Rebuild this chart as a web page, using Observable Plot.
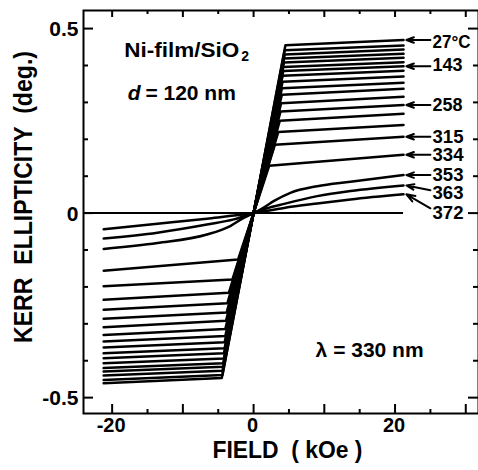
<!DOCTYPE html>
<html><head><meta charset="utf-8">
<script src="https://cdn.jsdelivr.net/npm/d3@7"></script>
<script src="https://cdn.jsdelivr.net/npm/@observablehq/plot@0.6"></script>
<style>body{margin:0;background:#fff} svg{display:block;overflow:visible}</style>
</head><body><div id="chart"></div>
<script>
// ---- data ----
// saturating loops (top to bottom at +21 kOe)
const satEndRight  = [0.469, 0.454, 0.443, 0.432, 0.421, 0.409, 0.398, 0.386, 0.370, 0.353, 0.337, 0.315, 0.293, 0.269, 0.239, 0.207, 0.158];
const satKneeRight = [0.455, 0.441, 0.430, 0.419, 0.408, 0.396, 0.385, 0.372, 0.356, 0.338, 0.321, 0.298, 0.275, 0.250, 0.220, 0.185, 0.128];
const satEndLeft   = [-0.461, -0.452, -0.440, -0.429, -0.420, -0.407, -0.393, -0.380, -0.364, -0.348, -0.330, -0.309, -0.286, -0.262, -0.235, -0.198, -0.156];
const satKneeLeft  = [-0.447, -0.439, -0.427, -0.416, -0.407, -0.394, -0.380, -0.366, -0.350, -0.333, -0.314, -0.292, -0.269, -0.244, -0.216, -0.180, -0.126];
const satKneeField = [4.5, 4.4, 4.4, 4.3, 4.3, 4.2, 4.2, 4.1, 4.1, 4.0, 4.0, 3.9, 3.8, 3.7, 3.5, 3.0, 2.2];
const fieldEnd = 21.2;

// non-saturating loops near Tc
const field353 = [-21.2, -13.6, -6.6, -3.3, -1.4, 0, 1.5, 2.9, 5.2, 9.0, 13.7, 21.2];
const kerr353  = [-0.097, -0.081, -0.058, -0.035, -0.013, 0, 0.016, 0.033, 0.055, 0.073, 0.085, 0.103];
const field363 = [-21.2, -13.6, -6.6, -2.8, 0, 1.9, 4.3, 9.0, 13.7, 21.2];
const kerr363  = [-0.069, -0.053, -0.031, -0.017, 0, 0.013, 0.025, 0.046, 0.060, 0.075];
const field372 = [-21.2, -13.6, -6.6, 0, 4.3, 9.0, 13.7, 21.2];
const kerr372  = [-0.044, -0.029, -0.015, 0, 0.014, 0.026, 0.037, 0.051];

// temperature labels and the curve end each one points to
const tempLabels = ["27°C", "143", "258", "315", "334", "353", "363", "372"];
const tempTarget = [0.469, 0.398, 0.293, 0.207, 0.158, 0.103, 0.075, 0.051];
const tempTextAt = [0.462, 0.400, 0.291, 0.205, 0.156, 0.102, 0.053, -0.001];
const tempTailAt = [0.469, 0.398, 0.293, 0.207, 0.158, 0.103, 0.062, 0.013];

// axes
const xMajor = [-20, -10, 0, 10, 20, 30];
const xMinor = [-15, -5, 5, 15, 25];
const xTickLabels = [-20, 0, 20];
const yMajor = [-0.5, 0, 0.5];
const yMinor = [-0.4, -0.3, -0.2, -0.1, 0.1, 0.2, 0.3, 0.4];
const yTickLabels = ["-0.5", "0", "0.5"];
const xDomain = [-24.05, 31.8];
const yDomain = [-0.543, 0.549];

// ---- build tables ----
const rows = [];
satEndRight.forEach((r, i) => {
  rows.push({c: i, H: -fieldEnd, v: satEndLeft[i]});
  rows.push({c: i, H: -satKneeField[i], v: satKneeLeft[i]});
  rows.push({c: i, H: 0, v: 0});
  rows.push({c: i, H: satKneeField[i], v: satKneeRight[i]});
  rows.push({c: i, H: fieldEnd, v: r});
});
const soft = [];
[[field353, kerr353], [field363, kerr363], [field372, kerr372]].forEach(([f, k], j) =>
  f.forEach((H, n) => soft.push({c: j, H, v: k[n]})));
const labels = tempLabels.map((t, i) => ({t, target: tempTarget[i], at: tempTextAt[i], tail: tempTailAt[i]}));

const W = 478, H = 470, mL = 83, mR = 0, mT = 10, mB = 57;
const fw = W - mL - mR, fh = H - mT - mB;
const font = "Liberation Sans, Arial, Helvetica, sans-serif";
const txt = {fontFamily: font, fontWeight: "bold", fill: "black"};

const chart = Plot.plot({
  width: W, height: H,
  marginLeft: mL, marginRight: mR, marginTop: mT, marginBottom: mB,
  x: {domain: xDomain, axis: null},
  y: {domain: yDomain, axis: null},
  style: {background: "white", overflow: "visible"},
  marks: [
    Plot.ruleY([0], {x1: xDomain[0], x2: fieldEnd, stroke: "black", strokeWidth: 2}),
    Plot.line(rows, {x: "H", y: "v", z: "c", stroke: "black", strokeWidth: 2.5, strokeLinejoin: "round"}),
    Plot.line(soft, {x: "H", y: "v", z: "c", stroke: "black", strokeWidth: 2.5, curve: "monotone-x"}),
    // ticks
    Plot.tickY(yMajor, {y: d => d, insetRight: fw - 10, strokeWidth: 2}),
    Plot.tickY(yMinor, {y: d => d, insetRight: fw - 5, strokeWidth: 2}),
    Plot.tickY(yMajor, {y: d => d, insetLeft: fw - 10, strokeWidth: 2}),
    Plot.tickY(yMinor, {y: d => d, insetLeft: fw - 5, strokeWidth: 2}),
    Plot.tickX(xMajor, {x: d => d, insetTop: fh - 9, strokeWidth: 2}),
    Plot.tickX(xMinor, {x: d => d, insetTop: fh - 4, strokeWidth: 2}),
    Plot.tickX(xMajor, {x: d => d, insetBottom: fh - 7, strokeWidth: 2}),
    Plot.tickX(xMinor, {x: d => d, insetBottom: fh - 4, strokeWidth: 2}),
    Plot.frame({stroke: "black", strokeWidth: 2}),
    // tick labels
    Plot.text(yMajor, {y: d => d, text: (d, i) => yTickLabels[i], frameAnchor: "left", dx: -5, dy: 1, textAnchor: "end", fontSize: 21, ...txt}),
    Plot.text(xTickLabels, {x: d => d, text: d => String(d), frameAnchor: "bottom", dy: 18, dx: -1, textAnchor: "middle", fontSize: 20, ...txt}),
    // axis titles
    Plot.text(["KERR  ELLIPTICITY  (deg.)"], {frameAnchor: "left", dx: -60, dy: -15, rotate: -90, textAnchor: "middle", fontSize: 26, ...txt}),
    Plot.text(["FIELD  ( kOe )"], {frameAnchor: "bottom", dx: 6.5, dy: 44, textAnchor: "middle", fontSize: 24, ...txt}),
    // annotations
    Plot.text(["Ni-film/SiO"], {x: -18.3, y: 0.44, textAnchor: "start", fontSize: 21, ...txt}),
    Plot.text(["2"], {x: -1.75, y: 0.424, textAnchor: "start", fontSize: 14, ...txt}),
    Plot.text(["d"], {x: -17.8, y: 0.326, textAnchor: "start", fontSize: 21, fontStyle: "italic", ...txt}),
    Plot.text(["= 120 nm"], {x: -15.3, y: 0.326, textAnchor: "start", fontSize: 21, ...txt}),
    Plot.text(["λ = 330 nm"], {x: 8.77, y: -0.373, textAnchor: "start", fontSize: 21, ...txt}),
    // temperature labels with arrows
    Plot.arrow(labels, {x1: 25.0, y1: "tail", x2: 21.6, y2: "target", stroke: "black", strokeWidth: 2, headLength: 8, headAngle: 40}),
    Plot.text(labels, {x: 25.3, y: "at", text: "t", textAnchor: "start", fontSize: 18, ...txt})
  ]
});
document.getElementById("chart").appendChild(chart);

// condense the tall bold lettering like in the original
const fit = {
  "KERR  ELLIPTICITY  (deg.)": 292,
  "FIELD  ( kOe )": 150,
  "Ni-film/SiO": 115,
  "27°C": 38, "143": 30, "258": 30, "315": 31, "334": 31, "353": 31, "363": 31, "372": 31
};
d3.select(chart).selectAll("text").each(function() {
  const t = this.textContent;
  if (fit[t]) d3.select(this).attr("textLength", fit[t]).attr("lengthAdjust", "spacingAndGlyphs");
});
</script>
</body></html>
